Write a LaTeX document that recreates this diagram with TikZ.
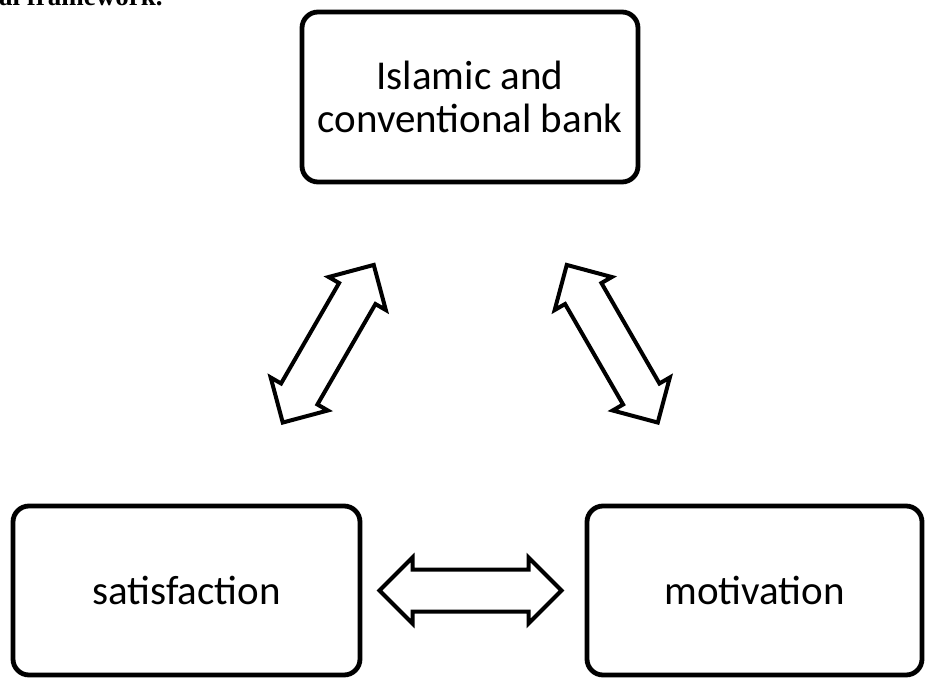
\documentclass[tikz,border=0pt]{standalone}
\usepackage{fontspec}
\setmainfont{Carlito}
\newfontfamily\headfont{Liberation Serif}
\usetikzlibrary{shapes.arrows}
\usetikzlibrary{calc}

\tikzset{
  block/.style={draw, line width=2.4pt, rounded corners=8pt, align=center,
    inner sep=0pt, font=\fontsize{20.5}{21.5}\selectfont},
  link/.style={double arrow, draw, line width=2pt, minimum width=31pt,
    minimum height=91pt, double arrow head extend=6pt,
    inner xsep=0pt, inner ysep=9.5pt},
}

\begin{document}
\begin{tikzpicture}[x=0.5pt, y=-0.5pt]
  \useasboundingbox (0,0) rectangle (925,678);
  \clip (0,0) rectangle (925,678);
  % caption, cut off by the page edge
  \node[anchor=base east, inner sep=0pt,
    font=\headfont\bfseries\fontsize{13.5}{15}\selectfont] (caption) at (163,5.5) {al framework.};
  \node[block, minimum width=168pt, minimum height=85pt] (bank) at (470,97) {Islamic and\\conventional bank};
  \node[block, minimum width=173.5pt, minimum height=84.5pt] (sat) at (186.5,590.5) {satisfaction};
  \node[block, minimum width=167.5pt, minimum height=84.5pt] (mot) at (754.5,590.5) {motivation};
  % two-way links
  \node[link, rotate=60] (bank-sat) at ($(bank)!0.5!(sat)$) {};
  \node[link, rotate=-60] (bank-mot) at ($(bank)!0.5!(mot)$) {};
  \node[link] (sat-mot) at ($(sat)!0.5!(mot)$) {};
\end{tikzpicture}
\end{document}
